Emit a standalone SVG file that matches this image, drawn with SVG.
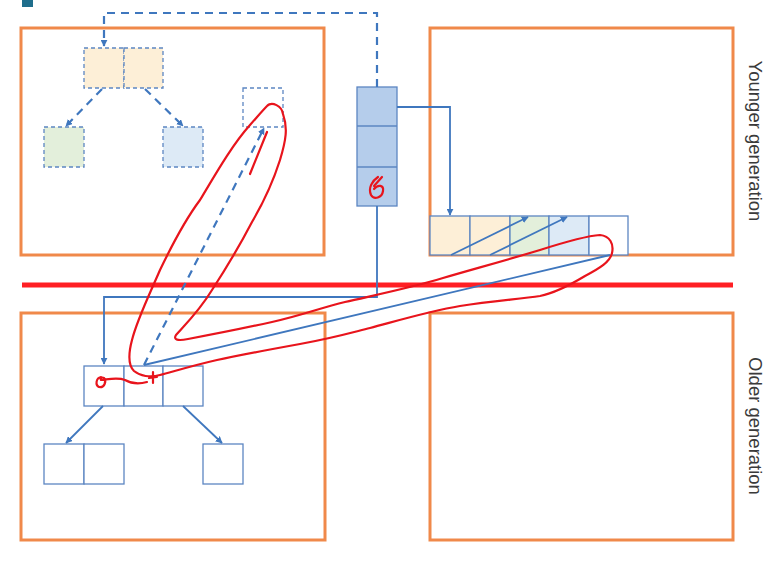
<svg xmlns="http://www.w3.org/2000/svg" width="775" height="566" viewBox="0 0 775 566">
<defs>
<marker id="ah" viewBox="0 0 10 10" refX="9" refY="5" markerWidth="7" markerHeight="7" orient="auto" markerUnits="userSpaceOnUse"><path d="M0,0 L10,5 L0,10 z" fill="#3F77BE"/></marker>
<style>
.gen{fill:none;stroke:#F0894A;stroke-width:3}
.cell{stroke:#5C86C2;stroke-width:1.3}
.dcell{stroke:#5C86C2;stroke-width:1.3;stroke-dasharray:4 3}
.con{fill:none;stroke:#3F77BE;stroke-width:1.8}
.dcon{fill:none;stroke:#3F77BE;stroke-width:2.2;stroke-dasharray:8 6}
.ink{fill:none;stroke:#E8141C;stroke-width:2.2;stroke-linecap:round;stroke-linejoin:round}
.lbl{font-family:"Liberation Sans",Arial,sans-serif;font-size:18.5px;fill:#3A3A3A}
</style>
</defs>
<rect width="775" height="566" fill="#FFFFFF"/>
<rect x="22" y="0" width="11" height="7" fill="#1F6E8C"/>

<g id="generations">
<rect id="young-left" class="gen" x="21" y="28" width="303" height="227"/>
<rect id="young-right" class="gen" x="430" y="28" width="303" height="227"/>
<rect id="old-left" class="gen" x="21" y="313" width="304" height="227"/>
<rect id="old-right" class="gen" x="430" y="313" width="303" height="227"/>
</g>

<line x1="22" y1="285" x2="733" y2="285" stroke="#FF1F24" stroke-width="5"/>

<g id="young-objects">
<g id="yobj-root"><rect class="dcell" x="84" y="48" width="40" height="40" fill="#FDEFD7"/><rect class="dcell" x="124" y="48" width="39" height="40" fill="#FDEFD7"/></g>
<g id="yobj-left"><rect class="dcell" x="44" y="127" width="40" height="40" fill="#E3EFDB"/></g>
<g id="yobj-right"><rect class="dcell" x="163" y="127" width="40" height="40" fill="#DDEAF6"/></g>
<g id="yobj-empty"><rect class="dcell" x="243" y="88" width="40" height="39" fill="#FFFFFF"/></g>
</g>

<g id="stack">
<rect class="cell" x="357" y="87" width="40" height="119" fill="#B5CDEB"/>
<line class="cell" x1="357" y1="126" x2="397" y2="126"/>
<line class="cell" x1="357" y1="167" x2="397" y2="167"/>
</g>

<g id="to-space">
<rect class="cell" x="430" y="216" width="40" height="39" fill="#FDEFD7"/>
<rect class="cell" x="470" y="216" width="40" height="39" fill="#FDEFD7"/>
<rect class="cell" x="510" y="216" width="39" height="39" fill="#E3EFDB"/>
<rect class="cell" x="549" y="216" width="40" height="39" fill="#DDEAF6"/>
<rect class="cell" x="589" y="216" width="39" height="39" fill="#FFFFFF"/>
</g>

<g id="old-objects">
<g id="oobj-root"><rect class="cell" x="84" y="366" width="40" height="40" fill="#FFFFFF"/><rect class="cell" x="124" y="366" width="39" height="40" fill="#FFFFFF"/><rect class="cell" x="163" y="366" width="40" height="40" fill="#FFFFFF"/></g>
<g id="oobj-left"><rect class="cell" x="44" y="444" width="40" height="40" fill="#FFFFFF"/><rect class="cell" x="84" y="444" width="40" height="40" fill="#FFFFFF"/></g>
<g id="oobj-right"><rect class="cell" x="203" y="444" width="40" height="40" fill="#FFFFFF"/></g>
</g>

<g id="connectors">
<path class="dcon" d="M377,87 V13 H104 V46" marker-end="url(#ah)"/>
<line class="dcon" x1="102" y1="89" x2="66" y2="126" marker-end="url(#ah)"/>
<line class="dcon" x1="145" y1="89" x2="183" y2="126" marker-end="url(#ah)"/>
<line class="dcon" x1="144" y1="365" x2="264" y2="128" marker-end="url(#ah)"/>
<path class="con" d="M397,107 H450 V215" marker-end="url(#ah)"/>
<path class="con" d="M377,206 V297 H104 V364" marker-end="url(#ah)"/>
<line class="con" x1="451" y1="255" x2="528" y2="217" marker-end="url(#ah)"/>
<line class="con" x1="490" y1="255" x2="567" y2="217" marker-end="url(#ah)"/>
<line class="con" x1="144" y1="365" x2="610" y2="255"/>
<line class="con" x1="103" y1="406" x2="66" y2="443" marker-end="url(#ah)"/>
<line class="con" x1="183" y1="406" x2="222" y2="443" marker-end="url(#ah)"/>
</g>

<g id="annotations">
<path class="ink" d="M267,106 C272,101 282,106 283,114 C288,128 286,140 280,160 C272,185 262,205 252,222 C240,245 225,270 212,290 C200,310 185,325 176,335 C173,340 178,341 188,339 C215,334 245,328 272,322 C300,316 320,308 345,302 C375,295 410,288 443,278 C470,270 500,262 540,250 C565,242 585,236 600,235 C610,236 614,244 612,253 C610,262 600,268 585,276 C570,285 555,293 540,296 C520,299 493,301 460,306 C430,311 400,320 370,328 C350,333 333,338 300,344 C267,350 240,355 217,360 C195,365 175,371 160,375 C150,378 140,376 134,371 C128,365 128,355 132,340 C137,320 147,300 160,270 C172,245 185,220 200,200 C215,175 232,145 250,125 C258,116 263,110 268,105"/>
<path class="ink" d="M267,132 L250,174" stroke-width="1.4"/>
<path class="ink" d="M101,377 C96,378 95,385 99,387 C104,388 107,382 104,378 C102,377 100,378 101,380 C110,379 118,377 125,380 C132,384 140,384 147,382" stroke-width="1.8"/>
<path class="ink" d="M153,372 L153,383 M149,378 L157,377" stroke-width="1.3"/>
<path class="ink" d="M378,177 C372,181 368,188 371,195 C374,200 382,198 383,191 C384,185 378,184 374,189 M374,186 L382,177" stroke-width="2"/>
</g>

<g id="labels">
<text class="lbl" transform="translate(749,141) rotate(90)" text-anchor="middle">Younger generation</text>
<text class="lbl" transform="translate(749,426) rotate(90)" text-anchor="middle">Older generation</text>
</g>
</svg>
